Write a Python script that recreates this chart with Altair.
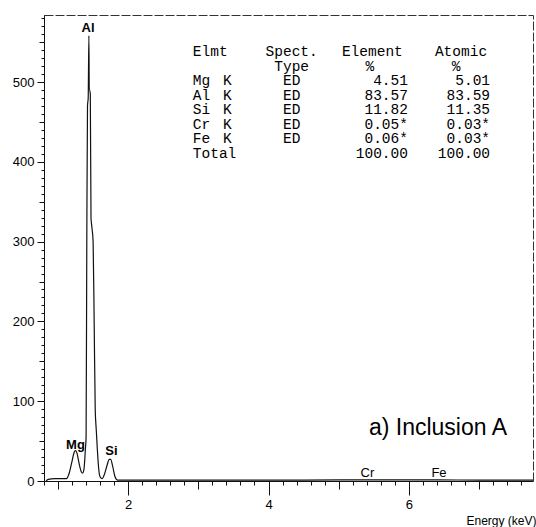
import altair as alt
import pandas as pd

# ---------------- data ----------------
energy_kev = [0.83, 0.86, 0.95, 1.05, 1.12, 1.16, 1.20, 1.23, 1.25, 1.27, 1.30, 1.33,
              1.35, 1.37, 1.39, 1.40, 1.41, 1.42, 1.43, 1.44, 1.445, 1.45, 1.46, 1.47,
              1.48, 1.50, 1.515, 1.53, 1.545, 1.56, 1.58, 1.60, 1.63, 1.66, 1.70, 1.73,
              1.75, 1.78, 1.81, 1.85, 1.90, 2.5, 3.5, 4.5, 5.41, 6.40, 7.0, 7.77]
counts = [0, 2, 3, 3, 3, 10, 25, 36, 38, 35, 22, 12,
          10, 15, 40, 55, 300, 470, 480, 558, 490, 490, 485, 330,
          320, 300, 200, 90, 64, 40, 15, 5, 3, 8, 20, 27,
          27, 18, 6, 1, 1, 1, 1, 1, 1.5, 1.5, 1, 1]

peak_names = ["Al", "Mg", "Si"]
peak_energy = [1.428, 1.249, 1.761]
peak_label_counts = [568, 45, 38]
minor_peak_names = ["Cr", "Fe"]
minor_peak_energy = [5.41, 6.43]
minor_peak_counts = [9.6, 9.6]

tbl_elmt = ["Elmt", "", "Mg", "Al", "Si", "Cr", "Fe", "Total"]
tbl_line = ["", "", "K", "K", "K", "K", "K", ""]
tbl_type = ["Spect.", "Type", "ED", "ED", "ED", "ED", "ED", ""]
tbl_element_head = ["Element", "%"]
tbl_atomic_head = ["Atomic", "%"]
tbl_element_val = ["4.51", "83.57", "11.82", "0.05*", "0.06*", "100.00"]
tbl_atomic_val = ["5.01", "83.59", "11.35", "0.03*", "0.03*", "100.00"]

panel_label = "a) Inclusion A"

x_ticks = [round(0.8 + 0.2 * i, 1) for i in range(35)]
y_ticks = list(range(0, 590, 10))

# ---------------- layout helpers ----------------
X_DOMAIN = [0.8, 7.77]
Y_DOMAIN = [0, 584]
row_y = [537.2 - 18.16 * i for i in range(8)]

COL_ELMT = 2.921
COL_K = 3.353
COL_TYPE = 4.33
COL_EL_HEAD = [5.48, 5.446]
COL_AT_HEAD = [6.744, 6.673]
COL_EL_RIGHT = 5.988
COL_AT_RIGHT = 7.158

left_rows, center_rows, right_rows = [], [], []
for i in range(8):
    if tbl_elmt[i]:
        left_rows.append({"t": tbl_elmt[i], "x": COL_ELMT, "y": row_y[i]})
    if tbl_line[i]:
        left_rows.append({"t": tbl_line[i], "x": COL_K, "y": row_y[i]})
    if tbl_type[i]:
        center_rows.append({"t": tbl_type[i], "x": COL_TYPE, "y": row_y[i]})
for i in range(2):
    center_rows.append({"t": tbl_element_head[i], "x": COL_EL_HEAD[i], "y": row_y[i]})
    center_rows.append({"t": tbl_atomic_head[i], "x": COL_AT_HEAD[i], "y": row_y[i]})
for j in range(6):
    right_rows.append({"t": tbl_element_val[j], "x": COL_EL_RIGHT, "y": row_y[j + 2]})
    right_rows.append({"t": tbl_atomic_val[j], "x": COL_AT_RIGHT, "y": row_y[j + 2]})

spec_df = pd.DataFrame({"energy": energy_kev, "counts": counts})
peaks_df = pd.DataFrame({"name": peak_names, "energy": peak_energy, "c": peak_label_counts})
minor_df = pd.DataFrame({"name": minor_peak_names, "energy": minor_peak_energy, "c": minor_peak_counts})

xs = alt.Scale(domain=X_DOMAIN, nice=False, zero=False)
ys = alt.Scale(domain=Y_DOMAIN, nice=False, zero=False)

FONT = "Liberation Sans"
MONO = "Liberation Mono"

x_axis = alt.Axis(
    values=x_ticks,
    tickCount=500,
    tickSize={
        "condition": [
            {"test": "round(datum.value*10) % 20 == 0", "value": 14},
            {"test": "round(datum.value*10) % 10 == 0", "value": 8},
        ],
        "value": 4,
    },
    labelExpr="(round(datum.value*10) % 20 == 0) ? format(datum.value, 'd') : ''",
    title="Energy (keV)",
    titleFont=FONT, titleFontSize=12, titleFontWeight="normal", titleColor="#000",
    titleAnchor="end", titleAlign="right", titleBaseline="alphabetic",
    titleX=492, titleY=43,
    labelFont=FONT, labelFontSize=13, labelColor="#000", labelPadding=3,
    labelFlush=False, labelOverlap=False,
    domainColor="#111", tickColor="#111", grid=False,
)
y_axis = alt.Axis(
    values=y_ticks,
    tickCount=500,
    tickSize={
        "condition": [
            {"test": "datum.value % 100 == 0", "value": 7},
            {"test": "datum.value % 50 == 0", "value": 5},
        ],
        "value": 3,
    },
    labelExpr="datum.value % 100 == 0 ? format(datum.value, 'd') : ''",
    title=None,
    labelFont=FONT, labelFontSize=13, labelColor="#000", labelPadding=3,
    labelOverlap=False, labelFlush=False,
    domainColor="#111", tickColor="#111", grid=False,
)

line = alt.Chart(spec_df).mark_line(
    color="#111", strokeWidth=1.2, interpolate="monotone", clip=True
).encode(
    x=alt.X("energy:Q", scale=xs, axis=x_axis),
    y=alt.Y("counts:Q", scale=ys, axis=y_axis),
)

peaks = alt.Chart(peaks_df).mark_text(
    font=FONT, fontSize=13, fontWeight="bold", color="#000", baseline="middle", align="center"
).encode(
    x=alt.X("energy:Q", scale=xs),
    y=alt.Y("c:Q", scale=ys),
    text="name:N",
)

minor_peaks = alt.Chart(minor_df).mark_text(
    font=FONT, fontSize=13, color="#000", baseline="middle", align="center"
).encode(
    x=alt.X("energy:Q", scale=xs),
    y=alt.Y("c:Q", scale=ys),
    text="name:N",
)

def tbl_layer(rows, align):
    return alt.Chart(pd.DataFrame(rows)).mark_text(
        font=MONO, fontSize=14.5, color="#000", baseline="middle", align=align
    ).encode(
        x=alt.X("x:Q", scale=xs),
        y=alt.Y("y:Q", scale=ys),
        text="t:N",
    )

panel = alt.Chart(pd.DataFrame({"t": [panel_label], "x": [7.40], "y": [57.6]})).mark_text(
    font=FONT, fontSize=23, color="#000", baseline="alphabetic", align="right"
).encode(
    x=alt.X("x:Q", scale=xs),
    y=alt.Y("y:Q", scale=ys),
    text="t:N",
)

chart = alt.layer(
    line, peaks, minor_peaks, tbl_layer(left_rows, "left"), tbl_layer(center_rows, "center"),
    tbl_layer(right_rows, "right"), panel
).properties(
    width=489, height=466,
    padding={"left": 44, "top": 15, "right": 3, "bottom": 46},
    autosize=alt.AutoSizeParams(type="none"),
    background="white",
).configure_view(
    stroke="#333", strokeWidth=1, strokeDash=[9, 2]
).configure_axis(
    labelOverlap=False, labelFlush=False, grid=False
)

chart.save("out.html", embed_options={"renderer": "svg", "actions": False})
